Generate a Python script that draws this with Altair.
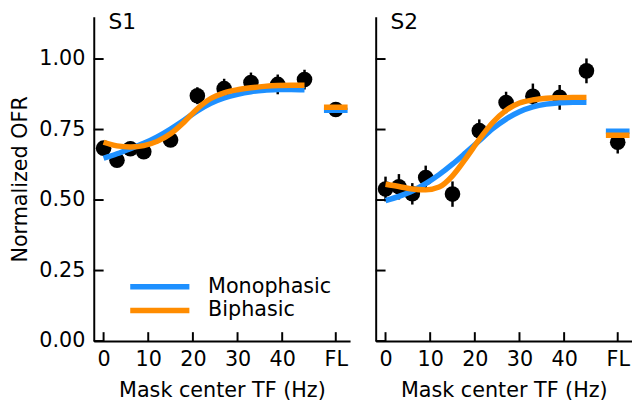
import altair as alt
import pandas as pd

FONT = "DejaVu Sans"
BLUE = "#1E90FF"
ORANGE = "#FF8C00"

# ---------------- data ----------------
tf_hz = [0, 3, 6, 9, 15, 21, 27, 33, 39, 45]
fl_pos = 52
x_tick_values = [0, 10, 20, 30, 40, 52]
x_tick_labels = ["0", "10", "20", "30", "40", "FL"]
y_tick_values = [0.0, 0.25, 0.5, 0.75, 1.0]
panel_titles = ["S1", "S2"]
model_names = ["Monophasic", "Biphasic"]

s1_ofr = [0.684, 0.641, 0.682, 0.671, 0.713, 0.870, 0.895, 0.917, 0.910, 0.927]
s1_err = [0.020, 0.020, 0.025, 0.020, 0.020, 0.030, 0.035, 0.035, 0.035, 0.035]
s1_fl = 0.821
s1_fl_err = 0.020
s1_fl_mono = 0.818
s1_fl_bi = 0.829

s2_ofr = [0.539, 0.547, 0.522, 0.580, 0.521, 0.746, 0.846, 0.868, 0.864, 0.958]
s2_err = [0.044, 0.045, 0.038, 0.042, 0.045, 0.040, 0.038, 0.045, 0.044, 0.044]
s2_fl = 0.705
s2_fl_err = 0.040
s2_fl_mono = 0.744
s2_fl_bi = 0.730

curve_x = [0, 3, 6, 9, 12, 15, 18, 21, 24, 27, 30, 33, 36, 39, 42, 45]
s1_mono = [0.648, 0.664, 0.682, 0.701, 0.724, 0.752, 0.783, 0.816, 0.843, 0.862,
           0.875, 0.884, 0.889, 0.892, 0.892, 0.891]
s1_bi = [0.705, 0.692, 0.688, 0.693, 0.708, 0.735, 0.776, 0.824, 0.860, 0.880,
         0.891, 0.898, 0.903, 0.906, 0.907, 0.907]
s2_mono = [0.498, 0.513, 0.532, 0.558, 0.590, 0.627, 0.668, 0.710, 0.753, 0.787,
           0.813, 0.830, 0.840, 0.845, 0.847, 0.847]
s2_bi = [0.556, 0.548, 0.539, 0.536, 0.546, 0.586, 0.648, 0.715, 0.775, 0.818,
         0.844, 0.855, 0.861, 0.863, 0.864, 0.864]

# ---------------- layout / style ----------------
W, H = 260, 329
x_scale = alt.Scale(domain=[-2.2, 55.2], nice=False, zero=False)
y_scale = alt.Scale(domain=[0, 1.15], nice=False, zero=False)
color_scale = alt.Scale(domain=model_names, range=[BLUE, ORANGE])

label_expr = " : ".join(
    f"datum.value == {v} ? '{l}'" for v, l in zip(x_tick_values, x_tick_labels)
) + " : datum.label"


def panel(title, ofr, err, fl, fl_err, fl_mono, fl_bi, mono, bi, show_y_labels, show_legend):
    pts = pd.DataFrame({
        "x": tf_hz + [fl_pos],
        "y": ofr + [fl],
        "e": err + [fl_err],
    })
    pts["lo"] = pts["y"] - pts["e"]
    pts["hi"] = pts["y"] + pts["e"]

    curves = pd.DataFrame({
        "x": curve_x * 2,
        "y": mono + bi,
        "model": [model_names[0]] * len(curve_x) + [model_names[1]] * len(curve_x),
    })
    fl_fits = pd.DataFrame({
        "x": [fl_pos, fl_pos],
        "y": [fl_mono, fl_bi],
        "model": model_names,
    })

    x_axis = alt.Axis(values=x_tick_values, labelExpr=label_expr, title="Mask center TF (Hz)",
                      labelFlush=False, labelPadding=8, titlePadding=10)
    if show_y_labels:
        y_axis = alt.Axis(values=y_tick_values, format=".2f", title="Normalized OFR",
                          labelPadding=9, titlePadding=8)
    else:
        y_axis = alt.Axis(values=y_tick_values, labels=False, title=None)

    base_pts = alt.Chart(pts)
    ebars = base_pts.mark_rule(color="black", strokeWidth=2.5).encode(
        x=alt.X("x:Q", scale=x_scale, axis=x_axis),
        y=alt.Y("lo:Q", scale=y_scale, axis=y_axis),
        y2="hi:Q",
    )
    dots = base_pts.mark_circle(color="black", opacity=1, size=250).encode(
        x=alt.X("x:Q", scale=x_scale),
        y=alt.Y("y:Q", scale=y_scale),
    )

    legend = None
    if show_legend:
        legend = alt.Legend(
            title=None, orient="none", legendX=54, legendY=261,
            symbolType="M-3,0H3", symbolSize=400, symbolStrokeWidth=5.5,
            labelFontSize=21, labelFont=FONT, labelColor="black",
            labelOffset=36, rowPadding=0, padding=0,
        )
    color = alt.Color("model:N", scale=color_scale, legend=legend)

    lines = []
    for name in model_names:
        lines.append(
            alt.Chart(curves).transform_filter(alt.datum.model == name)
            .mark_line(strokeWidth=5.5, interpolate="monotone")
            .encode(x=alt.X("x:Q", scale=x_scale), y=alt.Y("y:Q", scale=y_scale), color=color)
        )
    fl_ticks = alt.Chart(fl_fits).mark_tick(orient="horizontal", size=24, thickness=5.5, opacity=1).encode(
        x=alt.X("x:Q", scale=x_scale), y=alt.Y("y:Q", scale=y_scale), color=color,
    )

    yt = alt.Chart(pd.DataFrame({"y": y_tick_values})).mark_rule(color="black", strokeWidth=2).encode(
        y=alt.Y("y:Q", scale=y_scale), x=alt.value(0), x2=alt.value(10),
    )
    xt = alt.Chart(pd.DataFrame({"x": x_tick_values})).mark_rule(color="black", strokeWidth=2).encode(
        x=alt.X("x:Q", scale=x_scale), y=alt.value(H), y2=alt.value(H - 9),
    )
    txt = alt.Chart(pd.DataFrame({"t": [title]})).mark_text(
        align="left", baseline="alphabetic", fontSize=22, font=FONT, color="black"
    ).encode(text="t:N", x=alt.value(15), y=alt.value(12))

    return alt.layer(ebars, dots, *lines, fl_ticks, yt, xt, txt).properties(width=W, height=H)


left = panel(panel_titles[0], s1_ofr, s1_err, s1_fl, s1_fl_err, s1_fl_mono, s1_fl_bi,
             s1_mono, s1_bi, True, True)
right = panel(panel_titles[1], s2_ofr, s2_err, s2_fl, s2_fl_err, s2_fl_mono, s2_fl_bi,
              s2_mono, s2_bi, False, False)

chart = (
    alt.hconcat(left, right, spacing=24)
    .resolve_scale(color="independent")
    .properties(padding={"left": 2, "top": 0, "right": 0, "bottom": 0})
    .configure_view(stroke=None)
    .configure_axis(
        labelFont=FONT, titleFont=FONT, labelFontSize=21, titleFontSize=21,
        labelColor="black", titleColor="black", titleFontWeight="normal",
        domainColor="black", domainWidth=2, grid=False, ticks=False,
    )
)

chart.save("out.html", embed_options={"renderer": "svg", "actions": False})
